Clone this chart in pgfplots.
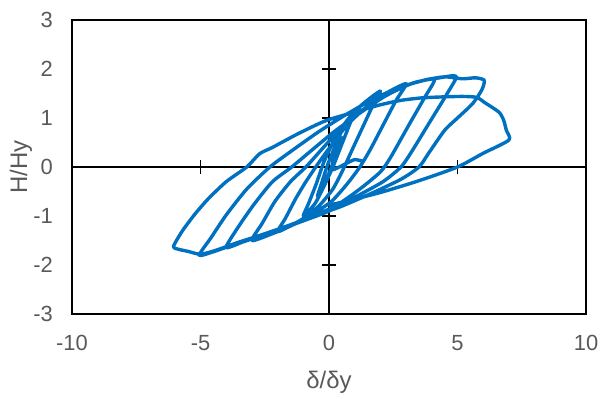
\documentclass[border=0pt]{standalone}
\usepackage{fontspec}
\setmainfont{Liberation Sans}
\usepackage{pgfplots}
\pgfplotsset{compat=1.18}
\definecolor{exblue}{HTML}{0070C0}
\definecolor{labgray}{HTML}{595959}
\begin{document}
\begin{tikzpicture}[x=1bp,y=1bp]
\path[use as bounding box] (-72bp,-85bp) rectangle (529bp,314bp);
\begin{axis}[
 at={(0,0)}, anchor=south west,
 scale only axis, width=514bp, height=294bp,
 xmin=-10,xmax=10,ymin=-3,ymax=3,
 xtick={-10,-5,0,5,10}, xticklabels={-10,-5,0,5,10},
 ytick={-3,-2,-1,0,1,2,3}, yticklabels={-3,-2,-1,0,1,2,3},
 major tick length=0pt,
 axis line style={black, line width=1.6bp},
 tick label style={font=\fontsize{22}{26}\selectfont, text=labgray, inner sep=0pt},
 xticklabel style={anchor=north, yshift=-21bp},
 yticklabel style={anchor=east, xshift=-19bp},
]
\end{axis}
\begin{axis}[
 at={(0,0)}, anchor=south west,
 scale only axis, width=514bp, height=294bp,
 xmin=-10,xmax=10,ymin=-3,ymax=3,
 axis lines=middle, axis line style={-, black, line width=1.6bp},
 xtick={-10,-5,5,10}, ytick={-3,-2,-1,1,2,3},
 xticklabels={}, yticklabels={},
 tick align=center, major tick length=14bp,
 tick style={black, line width=1.6bp},
]
\addplot[exblue, line width=3.4bp, smooth, tension=0.4, line join=round, line cap=round] coordinates {
(1.3,0.12) (1.0,0.15) (0.7,0.08) (0.4,0.0) (0.1,-0.05)
(0.25,0.3) (0.5,0.6) (0.35,0.35) (0.1,0.0) (-0.15,-0.3) (-0.45,-0.6) (-0.3,-0.35) (-0.05,0.05)
(0.3,0.5) (0.6,0.85) (1.0,1.15) (0.75,0.8) (0.45,0.4) (0.15,0.0) (-0.2,-0.4) (-0.55,-0.75) (-1.0,-1.0)
(-0.8,-0.75) (-0.5,-0.35) (-0.2,0.1) (0.2,0.55) (0.7,0.95) (1.3,1.28) (2.0,1.55)
(1.7,1.25) (1.3,0.8) (0.9,0.35) (0.55,-0.05) (0.15,-0.45) (-0.4,-0.8) (-1.0,-1.05) (-1.5,-1.2) (-2.0,-1.32)
(-1.7,-1.05) (-1.3,-0.65) (-0.9,-0.3) (-0.45,0.05) (0.1,0.45) (0.7,0.85) (1.4,1.2) (2.2,1.5) (3.0,1.7)
(2.6,1.35) (2.1,0.85) (1.6,0.35) (1.2,0.0) (0.7,-0.35) (0.1,-0.7) (-0.6,-0.95) (-1.4,-1.18) (-2.2,-1.36) (-3.0,-1.5)
(-2.6,-1.15) (-2.1,-0.7) (-1.5,-0.3) (-0.9,0.0) (-0.3,0.35) (0.4,0.75) (1.2,1.12) (2.1,1.45) (3.1,1.68) (4.1,1.8)
(3.7,1.4) (3.1,0.85) (2.4,0.2) (2.0,-0.1) (1.2,-0.45) (0.3,-0.78) (-0.6,-1.0) (-1.5,-1.2) (-2.5,-1.38) (-3.3,-1.52) (-4.0,-1.64)
(-3.5,-1.2) (-2.9,-0.75) (-2.2,-0.3) (-1.45,0.0) (-0.7,0.33) (0.2,0.72) (1.2,1.1) (2.2,1.45) (3.3,1.72) (4.3,1.82) (4.95,1.85)
(4.6,1.5) (3.9,0.9) (3.2,0.3) (2.8,0.0) (2.1,-0.3) (1.0,-0.62) (0.0,-0.9) (-0.9,-1.08) (-1.8,-1.25) (-2.8,-1.42) (-3.8,-1.6) (-4.5,-1.73) (-5.05,-1.8)
(-4.6,-1.45) (-4.0,-0.98) (-3.2,-0.45) (-2.3,0.0) (-1.4,0.35) (-0.4,0.72) (0.6,1.05) (1.6,1.35) (2.7,1.62) (3.8,1.78) (4.5,1.84) (5.2,1.8) (5.7,1.82) (6.04,1.77)
(5.95,1.58) (5.6,1.3) (5.0,1.0) (4.5,0.75) (3.9,0.3) (3.5,0.0) (2.8,-0.25) (1.6,-0.55) (0.4,-0.82) (-0.5,-0.98) (-1.5,-1.18) (-2.6,-1.38) (-3.6,-1.55) (-4.4,-1.7) (-5.0,-1.78) (-5.5,-1.72) (-5.85,-1.68) (-6.05,-1.62)
(-5.7,-1.3) (-5.2,-0.95) (-4.7,-0.65) (-4.0,-0.3) (-3.2,0.0) (-2.7,0.27) (-2.2,0.4) (-1.2,0.68) (-0.1,0.95) (1.2,1.15) (2.0,1.27) (2.8,1.36) (3.6,1.41) (4.4,1.43) (5.2,1.44) (5.75,1.42) (6.1,1.3) (6.4,1.2) (6.65,1.1) (6.8,0.95) (6.9,0.75) (7.0,0.55)
(6.0,0.28) (5.0,0.0) (3.5,-0.28) (2.0,-0.52) (0.8,-0.68) (0.0,-0.78)
};
\end{axis}
\node[rotate=90, font=\fontsize{24}{28}\selectfont, text=labgray] at (-51bp,147bp) {H/Hy};
\node[font=\fontsize{24}{28}\selectfont, text=labgray] at (257bp,-68bp) {δ/δy};
\end{tikzpicture}
\end{document}
